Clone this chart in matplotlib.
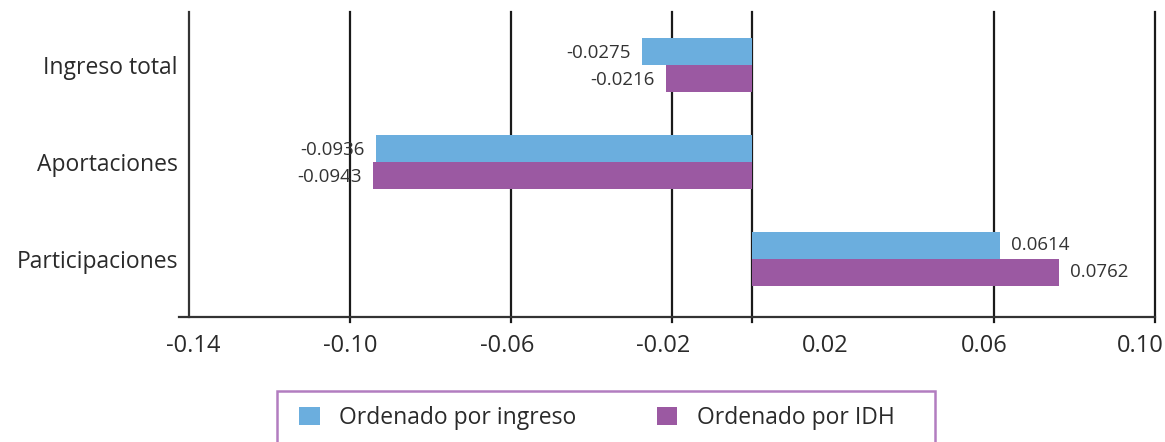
import matplotlib
matplotlib.use("Agg")
import matplotlib.pyplot as plt
from matplotlib.patches import Rectangle
from matplotlib.transforms import ScaledTranslation
import numpy as np

categories = ["Ingreso total", "Aportaciones", "Participaciones"]
por_ingreso = [-0.0275, -0.0936, 0.0614]
por_idh = [-0.0216, -0.0943, 0.0762]
series_names = ["Ordenado por ingreso", "Ordenado por IDH"]
xticks = [-0.14, -0.10, -0.06, -0.02, 0.02, 0.06, 0.10]
xtick_labels = ["-0.14", "-0.10", "-0.06", "-0.02", "0.02", "0.06", "0.10"]
grid_lines = [-0.10, -0.06, -0.02, 0.0, 0.06, 0.10]

blue = "#6BAEDE"
purple = "#9B59A2"
txt = "#2a2a2a"

plt.rcParams['font.family'] = ['Open Sans', 'DejaVu Sans']

W, H = 1165, 442
fig = plt.figure(figsize=(W / 100, H / 100), dpi=100)
ax = fig.add_axes([189 / W, 1 - 317 / H, (1155 - 189) / W, (317 - 12) / H])

y = np.arange(len(categories))
h = 0.277
b1 = ax.barh(y - h / 2, por_ingreso, height=h, color=blue, zorder=3, label=series_names[0])
b2 = ax.barh(y + h / 2, por_idh, height=h, color=purple, zorder=3, label=series_names[1])

ax.set_xlim(-0.14, 0.10)
ax.set_ylim(2.6, -0.55)

for g in grid_lines:
    ax.axvline(g, ymin=-0.015, ymax=1, color="#1a1a1a", lw=1.6, zorder=2, clip_on=False)

for s in ["top", "right"]:
    ax.spines[s].set_visible(False)
ax.spines["left"].set_color("#333333")
ax.spines["left"].set_linewidth(1.6)
ax.spines["bottom"].set_color("#333333")
ax.spines["bottom"].set_linewidth(1.6)
ax.spines["bottom"].set_bounds(-0.1425, 0.10)

ax.set_xticks(xticks)
ax.set_xticklabels(xtick_labels, fontsize=17, color=txt)
ax.set_yticks(y)
ax.set_yticklabels(categories, fontsize=16.5, color=txt)
ax.tick_params(axis="both", length=0)
ax.tick_params(axis="x", pad=12)
ax.tick_params(axis="y", pad=8)

# small horizontal nudges of the tick labels (pixels), as in the reference
label_shift_px = [4, 0, -4, -9, -8, -10, -15]
for lab, dx in zip(ax.get_xticklabels(), label_shift_px):
    lab.set_transform(lab.get_transform() + ScaledTranslation(dx / 100, 0, fig.dpi_scale_trans))

for bars, vals in [(b1, por_ingreso), (b2, por_idh)]:
    for rect, v in zip(bars, vals):
        yc = rect.get_y() + rect.get_height() / 2
        if v < 0:
            ax.annotate(f"{v:.4f}", (v, yc), xytext=(-8, -1), textcoords="offset points",
                        ha="right", va="center", fontsize=13.5, color="#333333", zorder=5)
        else:
            ax.annotate(f"{v:.4f}", (v, yc), xytext=(8, 0), textcoords="offset points",
                        ha="left", va="center", fontsize=13.5, color="#333333", zorder=5)

fig.patches.append(Rectangle((277 / W, -0.2), (935 - 277) / W, 0.2 + 1 - 391 / H,
                             transform=fig.transFigure, fill=False,
                             edgecolor="#B27DC0", lw=1.8))

fig.legend(handles=[b1, b2], labels=series_names, loc="center",
           bbox_to_anchor=(597 / W, 1 - 418 / H), ncol=2, frameon=False,
           fontsize=16.5, handlelength=0.9, handleheight=0.8, handletextpad=0.85,
           columnspacing=3.5, labelcolor=txt, borderpad=0, borderaxespad=0)

fig.savefig("out.png", dpi=100)
